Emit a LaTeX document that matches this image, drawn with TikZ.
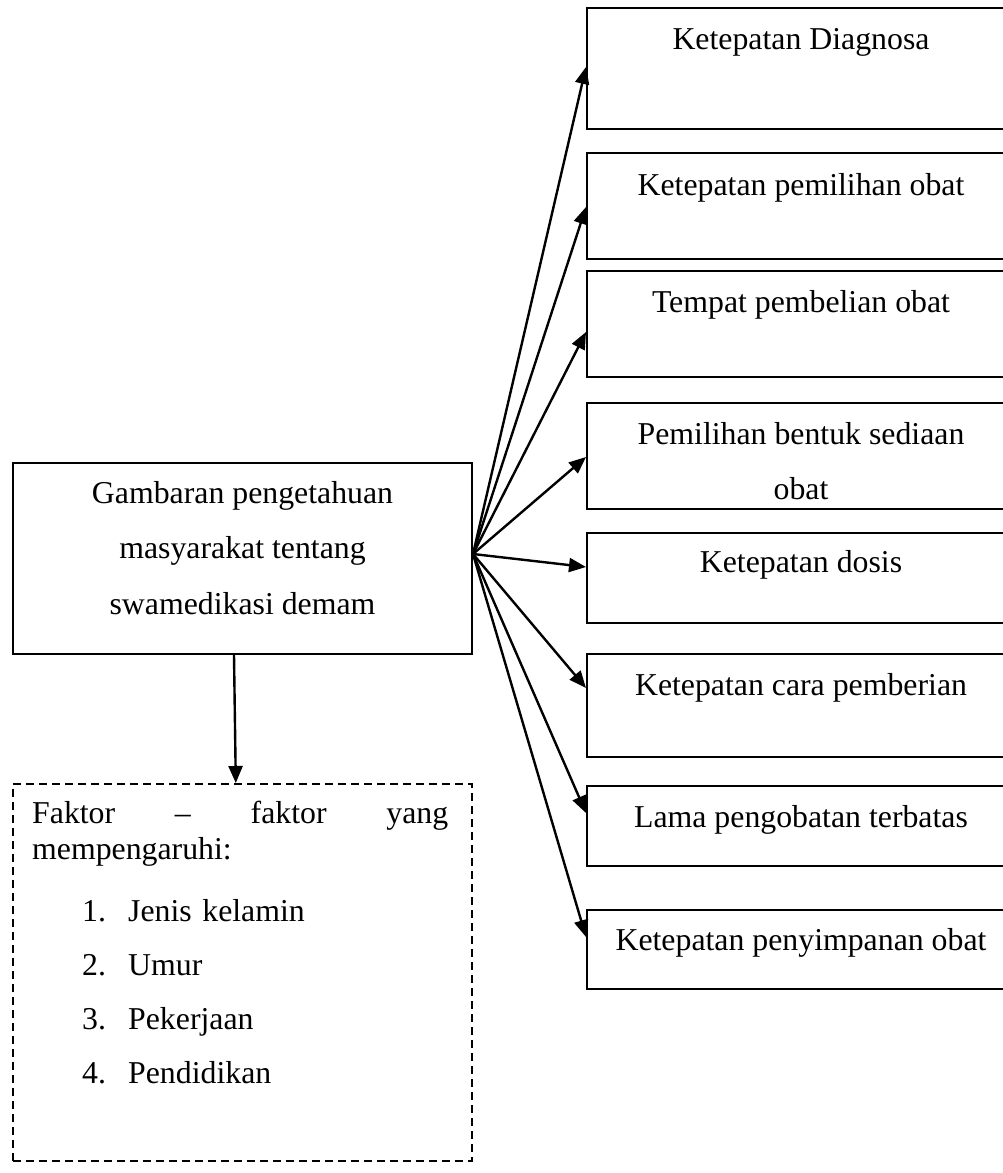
\documentclass[tikz,border=0pt]{standalone}
\usepackage{fontspec}
\setmainfont{Liberation Serif}
\usetikzlibrary{arrows.meta}
\begin{document}
\begin{tikzpicture}[x=1pt,y=-1pt,
  box/.style={draw, line width=2pt, inner sep=0pt, anchor=north west},
  rbox/.style={box, minimum width=428pt},
  txt/.style={draw=none, fill=none, minimum width=0pt, minimum height=0pt,
    font=\fontsize{31.8}{55.5}\selectfont, align=center, inner sep=0pt, anchor=north},
  listtxt/.style={draw=none, fill=none, minimum width=0pt, minimum height=0pt,
    font=\fontsize{31.8}{36}\selectfont, align=left, text width=416pt, inner sep=0pt, anchor=north west},
  dbox/.style={box, line width=1.6pt, dash pattern=on 8pt off 5pt},
  conn/.style={line width=2.4pt, -{Triangle[length=17pt,width=14pt]}},
]
\useasboundingbox (0,0) rectangle (1003,1173);
\clip (0,0) rectangle (1003,1173);

% right column boxes
\node[rbox, minimum height=121pt, label={[txt, yshift=-21pt]north:Ketepatan Diagnosa}] (b1) at (586,7) {};
\node[rbox, minimum height=106pt, label={[txt, yshift=-21pt]north:Ketepatan pemilihan obat}] (b2) at (586,152) {};
\node[rbox, minimum height=106pt, label={[txt, yshift=-20pt]north:Tempat pembelian obat}] (b3) at (586,270) {};
\node[rbox, minimum height=106pt, label={[txt, yshift=-20pt]north:{Pemilihan bentuk sediaan\\obat}}] (b4) at (586,402) {};
\node[rbox, minimum height=90pt, label={[txt, yshift=-18pt]north:Ketepatan dosis}] (b5) at (586,532) {};
\node[rbox, minimum height=103pt, label={[txt, yshift=-20pt]north:Ketepatan cara pemberian}] (b6) at (586,653) {};
\node[rbox, minimum height=80pt, label={[txt, yshift=-20pt]north:Lama pengobatan terbatas}] (b7) at (586,785) {};
\node[rbox, minimum height=79pt, label={[txt, yshift=-19pt]north:Ketepatan penyimpanan obat}] (b8) at (586,909) {};

% main box
\node[box, minimum width=459pt, minimum height=191pt,
  label={[txt, yshift=-19pt]north:{Gambaran pengetahuan\\masyarakat tentang\\swamedikasi demam}}] (main) at (12,462) {};

% dashed factor box
\node[dbox, minimum width=459pt, minimum height=377pt,
  label={[listtxt, xshift=20pt, yshift=-18pt]north west:{Faktor\hfill–\hfill faktor\hfill yang\\
    mempengaruhi:\\[26pt]
    \hspace*{50pt}\makebox[46pt][l]{1.}Jenis kelamin\\[18pt]
    \hspace*{50pt}\makebox[46pt][l]{2.}Umur\\[18pt]
    \hspace*{50pt}\makebox[46pt][l]{3.}Pekerjaan\\[18pt]
    \hspace*{50pt}\makebox[46pt][l]{4.}Pendidikan}}] (fk) at (12,783) {};

% connectors
\coordinate (o) at ([yshift=4.5pt]main.east);
\draw[conn] (o) -- ([yshift=-60pt]b1.north west);
\draw[conn] (o) -- ([yshift=-55pt]b2.north west);
\draw[conn] (o) -- ([yshift=-62pt]b3.north west);
\draw[conn] (o) -- ([yshift=-55pt]b4.north west);
\draw[conn] (o) -- ([yshift=-35pt]b5.north west);
\draw[conn] (o) -- ([yshift=-35pt]b6.north west);
\draw[conn] (o) -- ([yshift=-28pt]b7.north west);
\draw[conn] (o) -- ([yshift=-28pt]b8.north west);
\draw[conn] ([xshift=-8.5pt]main.south) -- ([xshift=-6.5pt]fk.north);
\end{tikzpicture}
\end{document}
